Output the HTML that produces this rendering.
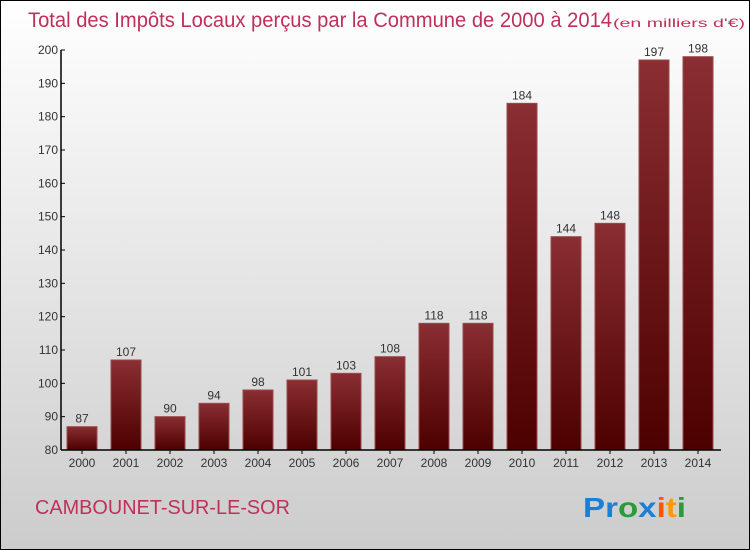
<!DOCTYPE html>
<html><head><meta charset="utf-8"><style>
body{margin:0;width:750px;height:550px;overflow:hidden}
svg{display:block}
text{font-family:"Liberation Sans",sans-serif}
</style></head><body>
<svg width="750" height="550">
<defs>
<linearGradient id="bg" x1="0" y1="0" x2="0" y2="1"><stop offset="0" stop-color="#ffffff"/><stop offset="1" stop-color="#cccccc"/></linearGradient>
<linearGradient id="bar" x1="0" y1="0" x2="0" y2="1"><stop offset="0" stop-color="#8a2e33"/><stop offset="1" stop-color="#4d0000"/></linearGradient>
</defs>
<rect x="0.5" y="0.5" width="749" height="549" fill="url(#bg)" stroke="#000"/>
<text x="28" y="27" font-size="21" fill="#c0305a" textLength="584" lengthAdjust="spacingAndGlyphs">Total des Impôts Locaux perçus par la Commune de 2000 à 2014</text>
<text x="613" y="27" font-size="12" fill="#c0305a" textLength="132" lengthAdjust="spacingAndGlyphs">(en milliers d'€)</text>
<g id="plot"></g>
<text x="35" y="514" font-size="20" fill="#c0305a" textLength="255" lengthAdjust="spacingAndGlyphs">CAMBOUNET-SUR-LE-SOR</text>
<text x="583" y="517" font-size="28" font-weight="bold" textLength="103" lengthAdjust="spacingAndGlyphs"><tspan fill="#1a7fd6">Pr</tspan><tspan fill="#2a9a3a">o</tspan><tspan fill="#1a7fd6">x</tspan><tspan fill="#ff5500">i</tspan><tspan fill="#ff9900">t</tspan><tspan fill="#2a9a3a">i</tspan></text>
</svg>
<script>
const years=["2000","2001","2002","2003","2004","2005","2006","2007","2008","2009","2010","2011","2012","2013","2014"];
const values=[87,107,90,94,98,101,103,108,118,118,184,144,148,197,198];
const yTicks=[80,90,100,110,120,130,140,150,160,170,180,190,200];
const NS="http://www.w3.org/2000/svg";
const g=document.getElementById('plot');
const y=v=>450-(v-80)*(400/120);
const x=i=>82+i*44;
function mk(t,a,p){const e=document.createElementNS(NS,t);for(const k in a)e.setAttribute(k,a[k]);(p||g).appendChild(e);return e;}
values.forEach((v,i)=>{
 const r=mk('rect',{x:x(i)-15,y:y(v),width:30,height:450-y(v),fill:'url(#bar)',stroke:'#9a4a4e','stroke-width':1});
 
 
 const t=mk('text',{x:x(i),y:y(v)-4,'font-size':12,fill:'#333','text-anchor':'middle'});t.textContent=v;
 
 
 const yl=mk('text',{x:x(i),y:467,'font-size':12,fill:'#333','text-anchor':'middle'});yl.textContent=years[i];
 
 
 mk('line',{x1:x(i),x2:x(i),y1:450,y2:454,stroke:'#000'});
});
yTicks.forEach(v=>{
 mk('line',{x1:61,x2:65,y1:y(v),y2:y(v),stroke:'#000'});
 const t=mk('text',{x:58,y:y(v)+4,'font-size':12,fill:'#333','text-anchor':'end'});t.textContent=v;
 
 
});
const ya=mk('line',{x1:61,x2:61,y1:50,y2:450,stroke:'#000','stroke-width':1.5});


const xa=mk('line',{x1:61,x2:721,y1:450,y2:450,stroke:'#000','stroke-width':1.5});


</script>
</body></html>
